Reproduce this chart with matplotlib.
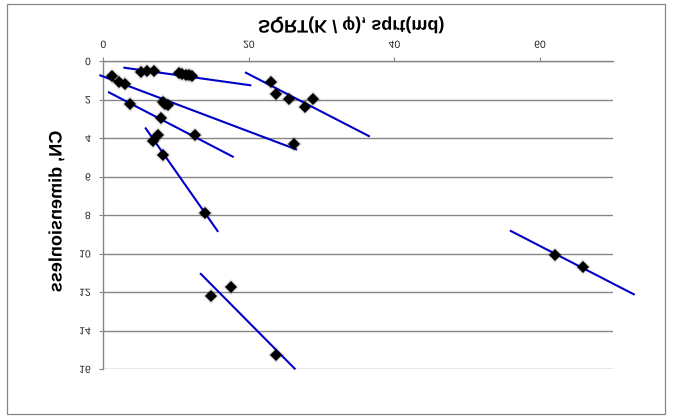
import numpy as np
import matplotlib
matplotlib.use('Agg')
import matplotlib.pyplot as plt
from matplotlib.patheffects import AbstractPathEffect
from matplotlib.transforms import Affine2D
from matplotlib.patches import Rectangle

# the reference is a vertically mirrored Excel chart, so text is mirrored too
class VFlip(AbstractPathEffect):
	def draw_path(self, renderer, gc, tpath, affine, rgbFace=None):
		ext = affine.transform_path(tpath).get_extents()
		cy = 0.5 * (ext.y0 + ext.y1)
		flip = Affine2D().translate(0, -cy).scale(1, -1).translate(0, cy)
		renderer.draw_path(gc, tpath, affine + flip, rgbFace)

# data points, one group per trend line
grp_a_x = [5.2, 6.0, 6.9, 10.4, 10.8, 11.3, 11.8, 12.2]
grp_a_y = [0.57, 0.50, 0.54, 0.64, 0.68, 0.72, 0.74, 0.78]
grp_b_x = [1.15, 2.2, 2.95, 8.17, 8.49, 8.86, 26.2]
grp_b_y = [0.78, 1.08, 1.18, 2.15, 2.23, 2.29, 4.33]
grp_c_x = [3.67, 7.9, 12.6]
grp_c_y = [2.25, 2.96, 3.84]
grp_d_x = [6.88, 7.57, 8.26, 13.95]
grp_d_y = [4.17, 3.85, 4.89, 7.9]
grp_e_x = [23.08, 23.7, 25.5, 27.7, 28.8]
grp_e_y = [1.07, 1.73, 1.97, 2.39, 1.97]
grp_f_x = [14.86, 17.5, 23.8]
grp_f_y = [12.2, 11.72, 15.27]
grp_g_x = [62.06, 65.97]
grp_g_y = [10.08, 10.7]

# trend line end points (x0, x1), (y0, y1)
trend_a = ([2.9, 20.2], [0.35, 1.26])
trend_b = ([-0.4, 26.5], [0.75, 4.59])
trend_c = ([0.78, 17.8], [1.63, 4.97])
trend_d = ([5.83, 15.7], [3.5, 8.83])
trend_e = ([19.6, 36.5], [0.61, 3.9])
trend_f = ([13.4, 26.3], [11.06, 15.98])
trend_g = ([56.0, 72.9], [8.83, 12.12])

x_ticks = [0, 20, 40, 60]
y_ticks = [0, 2, 4, 6, 8, 10, 12, 14, 16]

plt.rcParams['font.family'] = ['Liberation Sans', 'DejaVu Sans']
grey = '#868686'

fig = plt.figure(figsize=(6.74, 4.2), dpi=100)
fig.patches.append(Rectangle((6.5/674, 1-413.5/420), 658.5/674, 410/420, transform=fig.transFigure,
	fill=False, edgecolor=grey, lw=0.9))
ax = fig.add_axes([103.3/674, 1-369/420, 509.4/674, 308/420])

for x, y in [trend_a, trend_b, trend_c, trend_d, trend_e, trend_f, trend_g]:
	ax.plot(x, y, color='#0000c8', lw=1.5, clip_on=False, zorder=3)

groups = [(grp_a_x, grp_a_y), (grp_b_x, grp_b_y), (grp_c_x, grp_c_y), (grp_d_x, grp_d_y),
	(grp_e_x, grp_e_y), (grp_f_x, grp_f_y), (grp_g_x, grp_g_y)]
for x, y in groups:
	ax.plot(x, y, ls='none', marker='D', ms=8.5, color='#000000', alpha=0.12, mew=0, zorder=4)
	ax.plot(x, y, ls='none', marker='D', ms=6, color='#000000', mew=0, zorder=5)

ax.set_xlim(0, 70)
ax.set_ylim(16, 0)
ax.set_xticks(x_ticks)
ax.set_yticks(y_ticks)
ax.xaxis.tick_top()
ax.yaxis.grid(True, color=grey, lw=1.0)
ax.set_axisbelow(True)
for s in ['right', 'bottom']:
	ax.spines[s].set_visible(False)
for s in ['top', 'left']:
	ax.spines[s].set_color(grey)
	ax.spines[s].set_linewidth(1.0)
ax.tick_params(axis='x', length=3, width=0.8, color=grey, pad=5, labelsize=7.5, labelcolor='#222222')
ax.tick_params(axis='y', length=3, width=0.8, color=grey, pad=6, labelsize=7.5, labelcolor='#222222')

fig.text(351/674, 1-25/420, 'SQRT(K / φ), sqrt(md)', ha='center', va='center', fontsize=13,
	fontweight='bold', path_effects=[VFlip()])
fig.text(57/674, 1-211.7/420, 'CN, dimensionless', ha='center', va='center', rotation=90,
	fontsize=13, fontweight='bold', path_effects=[VFlip()])

fig.canvas.draw()
for lbl in ax.get_xticklabels() + ax.get_yticklabels():
	lbl.set_path_effects([VFlip()])

fig.savefig('out.png', dpi=100)
